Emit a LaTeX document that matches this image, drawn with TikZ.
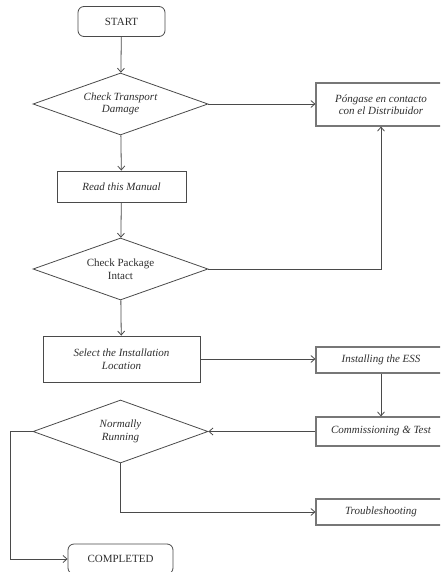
\documentclass[tikz,border=0pt]{standalone}
\usepackage{fontspec}
\setmainfont{Liberation Serif}
\usetikzlibrary{shapes.geometric,arrows.meta}
\definecolor{edge}{HTML}{4A4A4A}
\definecolor{boxline}{HTML}{777777}
\definecolor{txt}{HTML}{2E2E2E}
\begin{document}
\begin{tikzpicture}[x=1pt,y=-1pt,
  every node/.style={text=txt,font=\fontsize{11}{12.5}\selectfont,align=center,inner sep=0pt},
  term/.style={draw=edge,line width=0.8pt,rounded corners=6pt,minimum height=30pt},
  proc/.style={draw=boxline,line width=1.1pt,minimum width=130pt},
  procL/.style={draw=edge,line width=0.8pt},
  dec/.style={draw=edge,line width=0.8pt,shape=diamond,aspect=2.8,minimum width=175pt,minimum height=62pt},
  conn/.style={draw=edge,line width=0.8pt,-{Straight Barb[length=4pt,width=7pt]}},
  plain/.style={draw=edge,line width=0.8pt}]
\useasboundingbox (0,0) rectangle (440,572);
\clip (0,0) rectangle (440,572);
\node[term,minimum width=87pt] (start) at (121.5,21.5) {START};
\node[dec] (d1) at (120.5,104) {\itshape Check Transport\\\itshape Damage};
\node[procL,minimum width=129pt,minimum height=31pt] (read) at (121.5,186.5) {\itshape Read this Manual};
\node[dec] (d2) at (120.5,269) {Check Package\\Intact};
\node[procL,minimum width=157pt,minimum height=46pt] (select) at (121.5,359) {\itshape Select the Installation\\\itshape Location};
\node[dec,minimum height=63pt] (d3) at (120.5,431.5) {\itshape Normally\\\itshape Running};
\node[term,minimum width=105pt] (done) at (120.5,559) {COMPLETED};
\node[proc,minimum height=43pt] (pon) at (381,104.5) {\itshape Póngase en contacto\\\itshape con el Distribuidor};
\node[proc,minimum height=26pt] (inst) at (381,360) {\itshape Installing the ESS};
\node[proc,minimum height=29pt] (comm) at (381,431.5) {\itshape Commissioning \& Test};
\node[proc,minimum height=26pt] (trouble) at (381,512) {\itshape Troubleshooting};
\coordinate (lft) at (10,431.5);
\coordinate (lfb) at (10,559);
\coordinate (dn) at (120.5,512);
\draw[conn] (start) -- (d1);
\draw[conn] (d1.east) -- (pon.west |- d1.east);
\draw[conn] (d1) -- (read);
\draw[conn] (read) -- (d2);
\draw[conn] (d2.east) -| (pon.south);
\draw[conn] (d2) -- (select);
\draw[conn] (select.east) -- (inst.west |- select.east);
\draw[conn] (inst) -- (comm);
\draw[conn] (comm.west) -- (d3.east);
\draw[conn] (d3.west) -- (lft) -- (lfb) -- (done.west);
\draw[conn] (d3.south) -- (dn) -- (trouble.west);
\end{tikzpicture}
\end{document}
